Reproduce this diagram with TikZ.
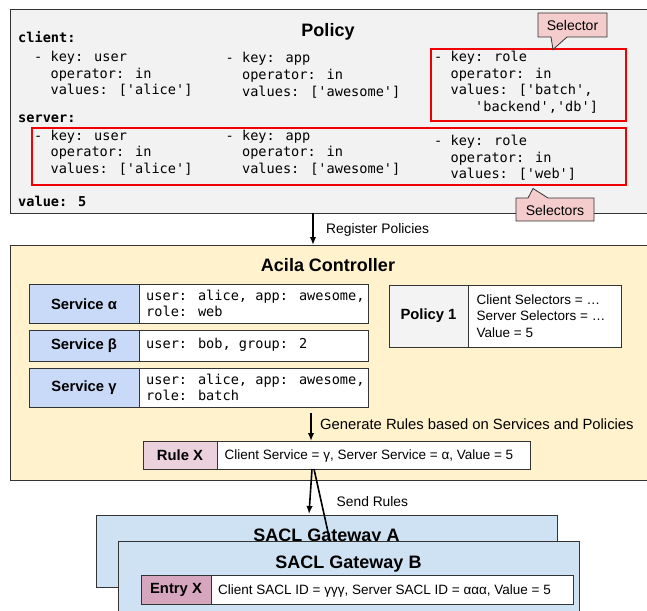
\documentclass[tikz,border=0pt]{standalone}
\usepackage{fontspec}
\setmainfont{Liberation Sans}
\newfontfamily\monof{DejaVu Sans Mono}
\usetikzlibrary{arrows.meta}
\definecolor{polfill}{HTML}{F2F2F2}
\definecolor{ctrlfill}{HTML}{FFF2CC}
\definecolor{svcfill}{HTML}{C9DAF8}
\definecolor{p1fill}{HTML}{F3F3F3}
\definecolor{rulefill}{HTML}{EAD1DC}
\definecolor{gwfill}{HTML}{CFE2F3}
\definecolor{entfill}{HTML}{D5A6BD}
\definecolor{callfill}{HTML}{F4CCCC}
\definecolor{selred}{HTML}{F00000}
\definecolor{edge}{HTML}{333333}
\tikzset{
  box/.style={draw=edge, line width=0.8pt, inner sep=0pt, outer sep=0pt, anchor=north west},
  mono/.style={font=\monof\fontsize{13.6}{16}\selectfont, inner sep=0pt, anchor=base west},
  monob/.style={font=\monof\bfseries\fontsize{13.6}{16}\selectfont, inner sep=0pt, anchor=base west},
  title/.style={font=\bfseries\fontsize{18}{20}\selectfont, inner sep=0pt, anchor=base},
  lbl/.style={font=\bfseries\fontsize{14.8}{16}\selectfont},
  txt/.style={font=\fontsize{13.5}{16}\selectfont, inner sep=0pt, anchor=base west},
  note/.style={font=\fontsize{13.8}{16}\selectfont, inner sep=0pt, anchor=base west},
  selbox/.style={draw=selred, line width=1.8pt},
  callout/.style={draw=edge, line width=0.8pt, fill=callfill},
  arr/.style={draw=black, line width=1.6pt, -{Latex[length=8pt,width=6.5pt]}},
  plain/.style={draw=black, line width=1.6pt},
}
\newcommand{\ind}{\hphantom{- }}
\begin{document}
\begin{tikzpicture}[x=1pt,y=-1pt]
\useasboundingbox (0,0) rectangle (647,610);
\clip (0,0) rectangle (647,610);

% ---------- Policy ----------
\node[box, fill=polfill, minimum width=660, minimum height=204] (policy) at (10,9) {};
\node[title] (ptitle) at (328,36.5) {Policy};
\node[monob] (cl) at (18,42.5) {client:};
\node[mono] (c1a) at (34,61.5) {- key: user};
\node[mono] (c1b) at (34,78) {\ind operator: in};
\node[mono] (c1c) at (34,94.5) {\ind values: ['alice']};
\node[mono] (c2a) at (225.5,63) {- key: app};
\node[mono] (c2b) at (225.5,79.5) {\ind operator: in};
\node[mono] (c2c) at (225.5,96) {\ind values: ['awesome']};
\node[mono] (c3a) at (434,61.5) {- key: role};
\node[mono] (c3b) at (434,78) {\ind operator: in};
\node[mono] (c3c) at (434,94.5) {\ind values: ['batch',};
\node[mono] (c3d) at (434,111) {\hphantom{-----}'backend','db']};
\node[monob] (sv) at (18,122.5) {server:};
\node[mono] (s1a) at (34,140) {- key: user};
\node[mono] (s1b) at (34,156.5) {\ind operator: in};
\node[mono] (s1c) at (34,173) {\ind values: ['alice']};
\node[mono] (s2a) at (225.5,140) {- key: app};
\node[mono] (s2b) at (225.5,156.5) {\ind operator: in};
\node[mono] (s2c) at (225.5,173) {\ind values: ['awesome']};
\node[mono] (s3a) at (434,145.5) {- key: role};
\node[mono] (s3b) at (434,162) {\ind operator: in};
\node[mono] (s3c) at (434,178.5) {\ind values: ['web']};
\node[monob] (val) at (18,206.5) {value: 5};
\draw[selbox] (430.7,49.3) rectangle (626,120.7);
\draw[selbox] (31.7,128.3) rectangle (626,185.3);
% callouts
\draw[callout] (538,13) -- (607,13) -- (607,37) -- (567,37) -- (553,49.5) -- (551,37) -- (538,37) -- cycle;
\node[font=\fontsize{14}{16}\selectfont, inner sep=0pt] (selc) at (572.5,25) {Selector};
\draw[callout] (516,198) -- (528,198) -- (533,188.5) -- (548,198) -- (594,198) -- (594,221) -- (516,221) -- cycle;
\node[font=\fontsize{14}{16}\selectfont, inner sep=0pt] (selsc) at (555,210) {Selectors};

% ---------- Acila Controller ----------
\node[box, fill=ctrlfill, minimum width=660, minimum height=235] (ctrl) at (10,245) {};
\coordinate (rx) at (313,0);
\draw[arr] (policy.south -| rx) -- (ctrl.north -| rx);
\node[note] (regl) at (326,233.5) {Register Policies};
\node[title] (ctitle) at (328,271.5) {Acila Controller};

\node[box, fill=svcfill, minimum width=110, minimum height=39, lbl] (sa) at (29,284.3) {Service α};
\node[box, fill=white, minimum width=229, minimum height=39] (sat) at (139,284.3) {};
\node[mono] (sat1) at (146,300) {user: alice, app: awesome,};
\node[mono] (sat2) at (146,316.5) {role: web};
\node[box, fill=svcfill, minimum width=110, minimum height=30.6, lbl] (sb) at (29,330.7) {Service β};
\node[box, fill=white, minimum width=229, minimum height=30.6] (sbt) at (139,330.7) {};
\node[mono] (sbt1) at (146,348.5) {user: bob, group: 2};
\node[box, fill=svcfill, minimum width=110, minimum height=39, lbl] (sc) at (29,368.3) {Service γ};
\node[box, fill=white, minimum width=229, minimum height=39] (sct) at (139,368.3) {};
\node[mono] (sct1) at (146,384) {user: alice, app: awesome,};
\node[mono] (sct2) at (146,400.5) {role: batch};

\node[box, fill=p1fill, minimum width=79, minimum height=62, lbl] (p1) at (389,285) {Policy 1};
\node[box, fill=white, minimum width=153, minimum height=62] (p1t) at (468,285) {};
\node[txt] (p1a) at (476.5,304) {Client Selectors = …};
\node[txt] (p1b) at (476.5,320.5) {Server Selectors = …};
\node[txt] (p1c) at (476.5,337) {Value = 5};

\node[box, fill=rulefill, minimum width=74, minimum height=28, lbl] (rule) at (143,441) {Rule X};
\node[box, fill=white, minimum width=313, minimum height=28] (rulet) at (217,441) {};
\node[txt] (rtxt) at (224.5,459.5) {Client Service = γ, Server Service = α, Value = 5};
\coordinate (g0) at (311,413);
\draw[arr] (g0) -- (rulet.north -| g0);
\node[note, font=\fontsize{14.8}{16}\selectfont] (genl) at (320,429) {Generate Rules based on Services and Policies};

% ---------- Gateways ----------
\node[box, fill=gwfill, minimum width=461, minimum height=72] (gwa) at (96,515) {};
\node[title] (gwat) at (326.5,541.5) {SACL Gateway A};
\coordinate (s1s) at (312,0);
\coordinate (s1e) at (309,514);
\draw[arr] (rulet.south -| s1s) -- (s1e);
\coordinate (s2s) at (314,0);
\coordinate (s2e) at (330,541);
\draw[plain] (rulet.south -| s2s) -- (s2e);
\node[note] (sendl) at (336.5,506) {Send Rules};
\node[box, fill=gwfill, minimum width=461, minimum height=109] (gwb) at (118,541) {};
\node[title] (gwbt) at (348.5,568.5) {SACL Gateway B};
\node[box, fill=entfill, minimum width=70, minimum height=29, lbl] (ent) at (141,575) {Entry X};
\node[box, fill=white, minimum width=362, minimum height=29] (entt) at (211,575) {};
\node[txt] (etxt) at (218,594) {Client SACL ID = γγγ, Server SACL ID = ααα, Value = 5};
\end{tikzpicture}
\end{document}
